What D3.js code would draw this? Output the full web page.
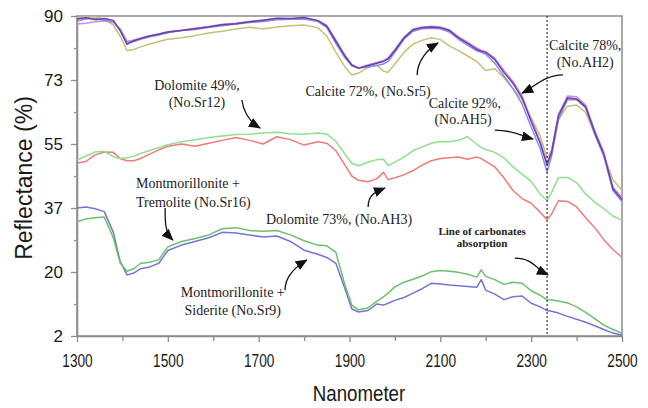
<!DOCTYPE html>
<html>
<head>
<meta charset="utf-8">
<script src="https://cdn.jsdelivr.net/npm/d3@7"></script>
<style>
body { margin: 0; background: #fff; }
svg { display: block; }
</style>
</head>
<body>
<svg id="chart" width="648" height="408"></svg>
<script>
// wavelength grid shared by every spectrum (nm)
var wavelengths = [1300,1320,1340,1360,1380,1395,1410,1425,1440,1460,
                   1480,1500,1530,1560,1590,1620,1650,1680,1710,1740,
                   1770,1800,1830,1850,1870,1890,1905,1920,1940,1960,
                   1975,1985,2000,2020,2040,2060,2080,2100,2120,2140,
                   2160,2180,2190,2200,2220,2240,2260,2280,2300,2320,
                   2335,2345,2360,2380,2400,2420,2440,2460,2480,2500];

var calciteAH2 = [89.2,89.5,89.0,89.3,88.8,86.0,82.2,83.2,83.8,84.5,
                  85.0,85.6,86.0,86.5,87.0,87.6,87.9,88.4,88.8,89.4,
                  89.3,89.6,88.8,87.2,83.0,79.0,76.5,75.6,76.3,77.0,
                  77.5,78.2,80.5,84.0,86.2,86.8,87.0,86.8,86.0,84.0,
                  82.5,80.8,80.3,80.0,78.0,74.5,71.5,67.5,61.0,55.0,
                  49.0,52.5,62.5,67.5,67.2,65.0,58.0,52.0,42.5,39.5];
var calciteAH5 = [88.6,89.2,89.3,88.8,88.5,86.2,82.8,83.0,83.6,84.3,
                  84.8,85.4,86.0,86.3,86.9,87.3,87.8,88.2,88.5,89.0,
                  89.1,89.2,88.5,86.8,82.5,78.5,76.3,75.7,76.0,76.4,
                  76.8,77.5,80.0,83.6,85.8,86.5,86.6,86.5,85.6,83.6,
                  82.0,80.4,80.0,79.5,77.0,73.5,70.0,65.8,59.5,53.5,
                  47.0,51.5,61.5,67.0,67.0,64.8,57.5,51.5,42.0,39.0];
var calcitePink = [87.8,88.0,88.4,88.6,88.2,86.5,83.0,83.4,83.9,84.6,
                   85.1,85.7,86.1,86.6,87.1,87.7,88.0,88.5,88.9,89.3,
                   89.2,89.4,88.7,87.4,83.4,79.2,76.7,75.8,76.5,77.2,
                   77.8,78.5,80.8,84.2,86.4,87.0,87.2,87.0,86.2,84.3,
                   82.8,81.2,80.6,80.2,78.4,75.0,72.0,68.0,61.5,55.5,
                   49.5,53.0,63.0,68.0,67.8,65.5,58.5,52.5,43.0,40.0];
var calciteSr5 = [89.6,89.6,89.8,89.2,87.5,84.5,80.5,80.8,81.5,82.3,
                  83.0,83.6,84.0,84.6,85.3,85.8,86.4,86.9,86.4,87.0,
                  87.3,87.5,86.8,84.5,80.0,76.0,73.8,74.3,75.8,76.5,
                  74.8,74.5,76.8,80.0,82.3,83.3,84.0,83.5,81.8,80.5,
                  79.0,77.5,76.3,75.0,75.5,73.0,70.0,67.0,62.0,57.0,
                  51.0,53.0,61.5,65.2,65.5,63.5,57.5,51.5,45.0,42.0];
var dolomiteSr12 = [50.4,51.5,52.6,52.8,51.3,50.8,51.0,51.4,52.2,53.0,
                    53.8,54.6,55.4,56.0,56.6,57.0,57.4,57.5,57.8,58.0,
                    57.6,57.5,57.8,57.5,55.5,52.0,49.5,48.8,49.8,50.5,
                    50.6,48.9,49.8,51.2,53.0,54.0,55.0,55.5,55.4,55.8,
                    56.8,54.8,53.8,53.3,52.5,51.0,48.5,46.5,44.5,41.0,
                    39.3,41.5,45.5,45.6,44.2,41.0,38.8,37.0,35.0,33.8];
var dolomiteAH3 = [49.6,50.0,51.8,52.6,52.5,50.8,50.2,50.2,50.8,52.0,
                   53.2,54.2,54.8,54.2,55.0,55.8,56.6,55.8,54.8,56.8,
                   56.0,54.5,55.4,55.0,53.0,49.0,46.0,44.8,44.4,45.2,
                   47.0,45.0,45.5,46.3,47.5,49.0,50.2,50.8,51.0,51.2,
                   50.6,51.2,50.8,50.0,48.5,45.5,42.0,39.8,38.5,36.0,
                   34.0,35.5,39.2,39.0,37.5,34.5,31.8,28.5,25.8,23.6];
var montTremoliteSr16 = [33.4,34.2,34.5,34.7,29.0,22.1,19.8,20.5,22.0,22.3,
                         23.0,26.5,28.0,28.8,29.8,31.5,31.8,31.0,30.8,31.0,
                         29.8,28.2,27.0,26.8,25.0,16.0,10.5,9.2,9.7,11.5,
                         12.8,13.8,15.5,16.8,17.6,18.5,19.7,20.0,19.8,19.5,
                         19.0,18.2,20.2,18.4,17.5,16.2,16.8,16.5,14.5,13.2,
                         12.0,11.9,11.6,11.1,10.0,8.5,6.8,5.0,3.8,2.8];
var montSideriteSr9 = [37.2,37.5,37.0,36.2,30.5,22.5,18.8,19.3,20.5,21.0,
                       22.0,25.5,27.0,28.0,29.0,30.5,30.3,29.8,29.2,29.5,
                       28.0,25.6,24.5,23.6,22.0,15.0,9.5,8.6,9.0,10.8,
                       10.5,11.0,11.8,12.6,13.8,15.0,16.5,16.3,16.0,15.8,
                       15.6,15.4,17.5,14.6,13.5,12.0,12.8,13.0,11.0,10.0,
                       9.0,8.8,8.3,7.4,6.6,5.8,4.8,3.8,2.8,2.3];

var xMajorTicks = [1300, 1500, 1700, 1900, 2100, 2300, 2500];
var xMinorTicks = [1400, 1600, 1800, 2000, 2200, 2400];
var yTicks = [2, 19.6, 37.2, 54.8, 72.4, 90];
var yTickLabels = ['2', '20', '37', '55', '73', '90'];
var yMinorTicks = [10.8, 28.4, 46.0, 63.6, 81.2];
var carbonateLine = 2335;

var series = [
    { values: montSideriteSr9,   color: '#7474d8' },
    { values: montTremoliteSr16, color: '#6cc06c' },
    { values: dolomiteAH3,       color: '#f27a7a' },
    { values: dolomiteSr12,      color: '#8fe08f' },
    { values: calciteSr5,        color: '#c6c078' },
    { values: calcitePink,       color: '#cc8ada' },
    { values: calciteAH5,        color: '#8a8ee6' },
    { values: calciteAH2,        color: '#6a40aa' }
];

// annotation text, anchored in data units
var labels = [
    { text: 'Dolomite 49%,',         at: [1564, 69.6], anchor: 'middle' },
    { text: '(No.Sr12)',             at: [1564, 65.0], anchor: 'middle' },
    { text: 'Calcite 72%, (No.Sr5)', at: [1941, 68.0], anchor: 'middle' },
    { text: 'Calcite 78%,',          at: [2419, 80.6], anchor: 'middle' },
    { text: '(No.AH2)',              at: [2419, 76.0], anchor: 'middle' },
    { text: 'Calcite 92%,',          at: [2154, 64.7], anchor: 'middle' },
    { text: '(No.AH5)',              at: [2150, 60.3], anchor: 'middle' },
    { text: 'Dolomite 73%, (No.AH3)', at: [1877, 32.8], anchor: 'middle' },
    { text: 'Montmorillonite +',     at: [1430, 42.7], anchor: 'start' },
    { text: 'Tremolite (No.Sr16)',   at: [1430, 37.4], anchor: 'start' },
    { text: 'Montmorillonite +',     at: [1643, 12.7], anchor: 'middle' },
    { text: 'Siderite (No.Sr9)',     at: [1643, 7.8],  anchor: 'middle' }
];
var boldLabels = [
    { text: 'Line of carbonates', at: [2192, 29.8] },
    { text: 'absorption',         at: [2192, 26.5] }
];
// arrows: from / to in data units, bends as pixel offsets
var arrows = [
    { from: [1663, 66.9], to: [1703, 59.2], c1: [2, 14],   c2: [-10, -6] },
    { from: [2049, 73.8], to: [2095, 82.6], c1: [0, -14],  c2: [-10, 6] },
    { from: [2370, 73.8], to: [2280, 68.8], c1: [-18, 0],  c2: [12, -6] },
    { from: [2220, 58.6], to: [2304, 56.2], c1: [20, 0],   c2: [-12, -3] },
    { from: [1941, 37.5], to: [1978, 42.7], c1: [0, -12],  c2: [-10, 4] },
    { from: [1494, 37.2], to: [1511, 28.4], c1: [0, 14],   c2: [-8, -8] },
    { from: [1758, 14.6], to: [1806, 22.9], c1: [0, -14],  c2: [-10, 6] },
    { from: [2264, 23.4], to: [2337, 18.8], c1: [18, 0],   c2: [-12, -6] }
];

var svg = d3.select('#chart');

var x = d3.scaleLinear().domain([1300, 2500]).range([77, 622]);
var y = d3.scaleLinear().domain([2, 90]).range([336, 16]);

svg.append('defs').append('marker')
    .attr('id', 'head')
    .attr('markerUnits', 'userSpaceOnUse')
    .attr('markerWidth', 12).attr('markerHeight', 10)
    .attr('refX', 11).attr('refY', 5)
    .attr('orient', 'auto')
    .append('path').attr('d', 'M0,0 L12,5 L0,10 z').attr('fill', '#111');

// frame
svg.append('rect')
    .attr('x', x.range()[0]).attr('y', y.range()[1])
    .attr('width', x.range()[1] - x.range()[0])
    .attr('height', y.range()[0] - y.range()[1])
    .attr('fill', 'none').attr('stroke', '#8c8c8c').attr('stroke-width', 1.5);

// x axis
var xAxisG = svg.append('g').attr('transform', 'translate(0,' + y.range()[0] + ')')
    .call(d3.axisBottom(x).tickValues(xMajorTicks).tickSize(6).tickSizeOuter(0)
          .tickPadding(12).tickFormat(d3.format('d')));
xAxisG.append('g').call(d3.axisBottom(x).tickValues(xMinorTicks).tickSize(5).tickFormat(''))
    .select('.domain').remove();
xAxisG.selectAll('path.domain').attr('stroke', '#8c8c8c').attr('stroke-width', 1.5);
xAxisG.selectAll('line').attr('stroke', '#8c8c8c').attr('stroke-width', 1.3);
xAxisG.selectAll('text')
    .style('font-family', '"Liberation Sans", Arial, sans-serif')
    .style('font-size', '19px').attr('fill', '#1a1a1a')
    .attr('transform', 'scale(0.72,1)');

// y axis
var yAxisG = svg.append('g').attr('transform', 'translate(' + x.range()[0] + ',0)')
    .call(d3.axisLeft(y).tickValues(yTicks).tickSize(6).tickSizeOuter(0).tickPadding(8)
          .tickFormat(function(d, i) { return yTickLabels[i]; }));
yAxisG.append('g').call(d3.axisLeft(y).tickValues(yMinorTicks).tickSize(3).tickFormat(''))
    .select('.domain').remove();
yAxisG.selectAll('path.domain').attr('stroke', '#8c8c8c').attr('stroke-width', 1.5);
yAxisG.selectAll('line').attr('stroke', '#8c8c8c').attr('stroke-width', 1.3);
yAxisG.selectAll('text')
    .style('font-family', '"Liberation Sans", Arial, sans-serif')
    .style('font-size', '17px').attr('fill', '#1a1a1a');

// axis titles
svg.append('text')
    .attr('transform', 'translate(359,401) scale(0.85,1)')
    .attr('text-anchor', 'middle')
    .style('font-family', '"Liberation Sans", Arial, sans-serif')
    .style('font-size', '22px').attr('fill', '#1a1a1a')
    .text('Nanometer');
svg.append('text')
    .attr('transform', 'translate(32,' + ((y.range()[0] + y.range()[1]) / 2 + 2) + ') rotate(-90)')
    .attr('text-anchor', 'middle')
    .style('font-family', '"Liberation Sans", Arial, sans-serif')
    .style('font-size', '23px').attr('fill', '#1a1a1a')
    .text('Reflectance (%)');

// spectra
var line = d3.line()
    .x(function(d, i) { return x(wavelengths[i]); })
    .y(function(d) { return y(d); });

svg.append('g').selectAll('path')
    .data(series)
    .join('path')
    .attr('d', function(s) { return line(s.values); })
    .attr('fill', 'none')
    .attr('stroke', function(s) { return s.color; })
    .attr('stroke-width', 1.5)
    .attr('stroke-linejoin', 'round');

// carbonate absorption line
svg.append('line')
    .attr('x1', x(carbonateLine)).attr('x2', x(carbonateLine))
    .attr('y1', y.range()[1]).attr('y2', y.range()[0])
    .attr('stroke', '#111').attr('stroke-width', 1)
    .attr('stroke-dasharray', '2,2');

// annotations
svg.append('g').selectAll('text')
    .data(labels)
    .join('text')
    .attr('x', function(d) { return x(d.at[0]); })
    .attr('y', function(d) { return y(d.at[1]); })
    .attr('text-anchor', function(d) { return d.anchor; })
    .style('font-family', '"Liberation Serif", "Times New Roman", serif')
    .style('font-size', '14px').attr('fill', '#222')
    .text(function(d) { return d.text; });

svg.append('g').selectAll('text')
    .data(boldLabels)
    .join('text')
    .attr('x', function(d) { return x(d.at[0]); })
    .attr('y', function(d) { return y(d.at[1]); })
    .attr('text-anchor', 'middle')
    .style('font-family', '"Liberation Serif", "Times New Roman", serif')
    .style('font-size', '11px').style('font-weight', 'bold').attr('fill', '#222')
    .text(function(d) { return d.text; });

svg.append('g').selectAll('path')
    .data(arrows)
    .join('path')
    .attr('d', function(a) {
        var sx = x(a.from[0]), sy = y(a.from[1]);
        var tx = x(a.to[0]), ty = y(a.to[1]);
        return 'M' + sx + ',' + sy +
               ' C' + (sx + a.c1[0]) + ',' + (sy + a.c1[1]) +
               ' ' + (tx + a.c2[0]) + ',' + (ty + a.c2[1]) +
               ' ' + tx + ',' + ty;
    })
    .attr('fill', 'none')
    .attr('stroke', '#111')
    .attr('stroke-width', 1.3)
    .attr('marker-end', 'url(#head)');
</script>
</body>
</html>
